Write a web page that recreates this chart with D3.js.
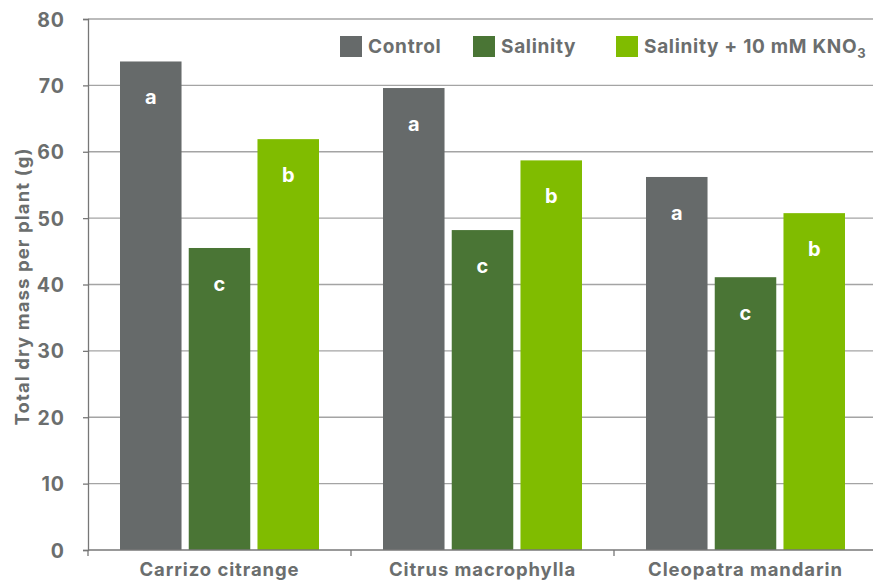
<!DOCTYPE html>
<html><head><meta charset="utf-8">
<script src="https://cdn.jsdelivr.net/npm/d3@7"></script>
<style>body{margin:0;background:#fff}svg{display:block}text{font-family:Inter,"Liberation Sans",sans-serif;}</style>
</head><body><svg id="c" width="873" height="583"></svg>
<script>
const categories = ["Carrizo citrange","Citrus macrophylla","Cleopatra mandarin"];
const seriesNames = ["Control","Salinity","Salinity + 10 mM KNO3"];
const control = [73.6, 69.6, 56.2];
const salinity = [45.5, 48.2, 41.1];
const kno3 = [61.9, 58.7, 50.75];
const letters = [["a","c","b"],["a","c","b"],["a","c","b"]];
const yTicks = [0,10,20,30,40,50,60,70,80];
const colors = ["#666a6a","#4a7535","#80bc00"];
const series = [control, salinity, kno3];

const svg = d3.select("#c");
const m = {l:88, t:19};
const W = 873;
const x = d3.scaleBand().domain(categories).range([m.l, m.l + 263*3]);
const y = d3.scaleLinear().domain([0,80]).range([550, 19]);
const xs = d3.scaleBand().domain(d3.range(3)).range([32, 263-32]).paddingInner(0.105);
const txt = "#6b6e6e";

// gridlines
svg.append("g").selectAll("line").data(yTicks.filter(d=>d>0)).join("line")
  .attr("x1", m.l).attr("x2", W).attr("y1", d=>y(d)).attr("y2", d=>y(d))
  .attr("stroke","#a4a4a4").attr("stroke-width",1.3);

// bars
const g = svg.append("g");
categories.forEach((c,i)=>{
  series.forEach((s,j)=>{
    const bx = x(c) + xs(j);
    g.append("rect").attr("x", bx).attr("y", y(s[i])).attr("width", xs.bandwidth()).attr("height", y(0)-y(s[i])).attr("fill", colors[j]);
    g.append("text").attr("x", bx + xs.bandwidth()/2).attr("y", y(s[i]) + 43).attr("text-anchor","middle")
      .attr("fill","#fff").attr("font-size",20).attr("font-weight",700).text(letters[i][j]);
  });
});

// y axis
const ya = svg.append("g").attr("transform",`translate(${m.l},0)`).call(d3.axisLeft(y).tickValues(yTicks).tickSize(5).tickPadding(18));
ya.select(".domain").attr("stroke","#777").attr("stroke-width",1.3);
ya.selectAll(".tick line").attr("stroke","#777").attr("stroke-width",1.3);
ya.selectAll(".tick text").attr("fill",txt).attr("font-size",19.5).attr("font-weight",700).attr("letter-spacing",1).attr("font-family","Inter,sans-serif").attr("dy","0.36em");

// x axis
const xa = svg.append("g").attr("transform",`translate(0,${y(0)})`).call(d3.axisBottom(x).tickSize(0).tickPadding(13));
xa.select(".domain").remove();
xa.append("line").attr("x1",m.l).attr("x2",W).attr("stroke","#777").attr("stroke-width",1.3);
xa.selectAll(".tick text").attr("fill",txt).attr("font-size",18.5).attr("font-weight",700).attr("letter-spacing",0.9).attr("font-family","Inter,sans-serif");
xa.selectAll(".sep").data(categories).join("line").attr("class","sep")
  .attr("x1",d=>x(d)).attr("x2",d=>x(d)).attr("y1",0).attr("y2",6).attr("stroke","#777").attr("stroke-width",1.3);

// y label
svg.append("text").attr("transform",`translate(28.5,${(y(0)+y(80))/2 + 2}) rotate(-90)`).attr("text-anchor","middle")
  .attr("fill",txt).attr("font-size",18.5).attr("font-weight",700).attr("letter-spacing",1.1).text("Total dry mass per plant (g)");

// legend
const lg = svg.append("g");
const lx = [340, 473, 616];
seriesNames.forEach((n,j)=>{
  lg.append("rect").attr("x",lx[j]).attr("y",36).attr("width",22).attr("height",21).attr("fill",colors[j]);
  const t = lg.append("text").attr("x",lx[j]+28).attr("y",53).attr("fill",txt).attr("font-size",19).attr("font-weight",700).attr("letter-spacing",0.7);
  if (n.endsWith("KNO3")) {
    t.append("tspan").text(n.slice(0,-1));
    t.append("tspan").attr("font-size",13).attr("dy",5).text("3");
  } else t.text(n);
});
</script></body></html>
